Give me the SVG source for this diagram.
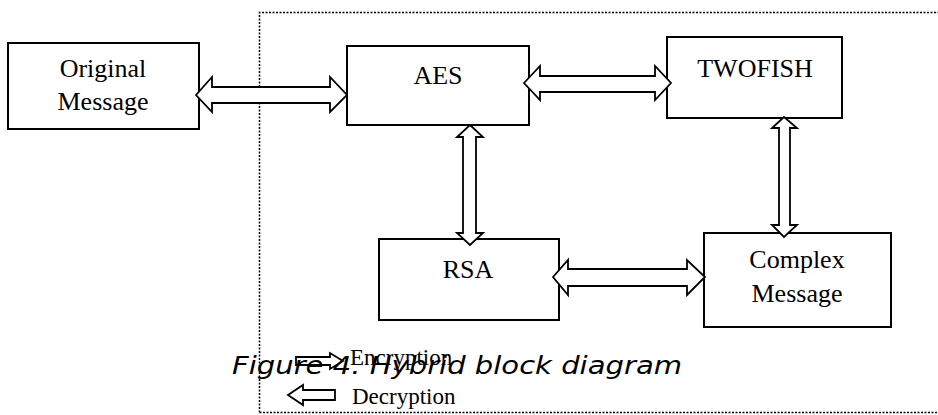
<svg xmlns="http://www.w3.org/2000/svg" width="938" height="415" viewBox="0 0 938 415">
<style>
.box{fill:#fff;stroke:#000;stroke-width:2}
.lbl{font-family:"Liberation Serif",serif;font-size:26px;fill:#000;text-anchor:middle}
.arr{fill:#fff;stroke:#000;stroke-width:1.8;stroke-linejoin:miter}
.dot{fill:none;stroke:#000;stroke-width:1.5;stroke-dasharray:2,1.5}
.leg{font-family:"Liberation Serif",serif;font-size:23px;fill:#000}
.cap{font-family:"DejaVu Sans",sans-serif;font-style:italic;font-size:25px;fill:#000}
</style>
<rect width="938" height="415" fill="#fff"/>
<path class="dot" d="M259.5,412.5 V12.5 H938 M259.5,412.5 H938"/>
<g id="original"><rect class="box" x="8" y="43" width="191" height="86"/><text class="lbl" x="103" y="77">Original</text><text class="lbl" x="103" y="110">Message</text></g>
<g id="aes"><rect class="box" x="347" y="46" width="182" height="79"/><text class="lbl" x="438" y="84">AES</text></g>
<g id="twofish"><rect class="box" x="667" y="37" width="175" height="81"/><text class="lbl" x="755" y="77">TWOFISH</text></g>
<g id="rsa"><rect class="box" x="379" y="239" width="180" height="81"/><text class="lbl" x="468" y="278">RSA</text></g>
<g id="complex"><rect class="box" x="704" y="233" width="187" height="94"/><text class="lbl" x="797" y="268">Complex</text><text class="lbl" x="797" y="302">Message</text></g>
<g id="connectors">
<path class="arr" d="M196,95 L212,77 V87 H330 V77 L347,95 L330,112 V103 H212 V112 Z"/>
<path class="arr" d="M524,83 L540,66 V76 H655 V66 L671,83 L655,100 V92 H540 V100 Z"/>
<path class="arr" d="M553,277 L568,260 V269 H687 V260 L705,277 L687,295 V286 H568 V295 Z"/>
<path class="arr" d="M470,125 L483,137 H476 V233 H483 L470,245 L457,233 H463 V137 H457 Z"/>
<path class="arr" d="M784,117 L797,128 H790 V225 H797 L784,237 L772,225 H779 V128 H772 Z"/>
</g>
<g id="legend">
<path class="arr" d="M296,357 H330 V353 L343,361 L330,369 V365 H296 Z"/>
<text class="leg" x="350" y="365">Encryption</text>
<path class="arr" d="M288,395 L303,385 V390 H335 V400 H303 V405 Z"/>
<text class="leg" x="352" y="404">Decryption</text>
</g>
<text class="cap" x="232" y="374" textLength="450" lengthAdjust="spacingAndGlyphs">Figure 4. Hybrid block diagram</text>
</svg>
